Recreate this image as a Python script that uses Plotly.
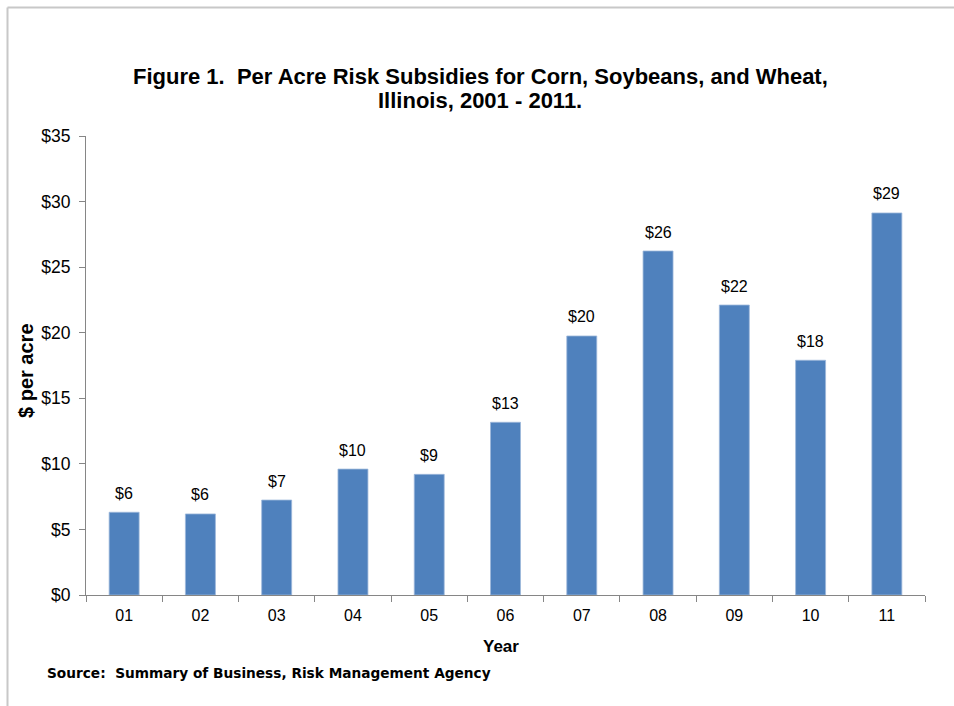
import plotly.graph_objects as go

years = ["01", "02", "03", "04", "05", "06", "07", "08", "09", "10", "11"]
subsidy = [6.31, 6.18, 7.24, 9.6, 9.2, 13.17, 19.75, 26.23, 22.11, 17.9, 29.13]
y_ticks = [0, 5, 10, 15, 20, 25, 30, 35]

W, H = 954, 706
L, R, T, B = 86, 29, 136, 111
pw = W - L - R
ph = H - T - B

FONT = "Arial, Liberation Sans, sans-serif"
BAR = "#4F81BD"
AXIS = "#868686"

fig = go.Figure()
fig.add_trace(go.Bar(
    x=years, y=subsidy,
    marker=dict(color=BAR, line=dict(color="#9DB7DA", width=0.8)),
    hoverinfo="x+y",
))

annotations = []
for i, v in enumerate(subsidy):
    annotations.append(dict(
        x=i, y=v, xref="x", yref="y", text=f"${v:.0f}", showarrow=False,
        yanchor="middle", yshift=19, font=dict(family=FONT, size=16, color="#000000"),
    ))

def px_x(p):
    return (p - L) / pw

def px_y(p):
    return 1 - (p - T) / ph

annotations += [
    dict(xref="paper", yref="paper", x=px_x(480), y=px_y(77), xanchor="center", yanchor="middle",
         text="<b>Figure 1.  Per Acre Risk Subsidies for Corn, Soybeans, and Wheat,</b>",
         showarrow=False, font=dict(family=FONT, size=22, color="#000000")),
    dict(xref="paper", yref="paper", x=px_x(480), y=px_y(101), xanchor="center", yanchor="middle",
         text="<b>Illinois, 2001 - 2011.</b>",
         showarrow=False, font=dict(family=FONT, size=22, color="#000000")),
    dict(xref="paper", yref="paper", x=px_x(26), y=px_y(371), xanchor="center", yanchor="middle",
         text="<b>$ per acre</b>", textangle=-90, showarrow=False,
         font=dict(family=FONT, size=20, color="#000000")),
    dict(xref="paper", yref="paper", x=px_x(501), y=px_y(646), xanchor="center", yanchor="middle",
         text="<b>Year</b>", showarrow=False, font=dict(family=FONT, size=17, color="#000000")),
    dict(xref="paper", yref="paper", x=px_x(45), y=px_y(673), xanchor="left", yanchor="middle",
         text="<b>Source:  Summary of Business, Risk Management Agency</b>", showarrow=False,
         font=dict(family="DejaVu Sans, Verdana, sans-serif", size=13.7, color="#000000")),
]

shapes = [
    dict(type="line", xref="paper", yref="paper", x0=px_x(7.5), x1=px_x(960), y0=px_y(7.5), y1=px_y(7.5),
         line=dict(color="#C8C8C8", width=2)),
    dict(type="line", xref="paper", yref="paper", x0=px_x(7.5), x1=px_x(7.5), y0=px_y(7.5), y1=px_y(720),
         line=dict(color="#C8C8C8", width=2)),
]

fig.update_layout(
    width=W, height=H,
    margin=dict(l=L, r=R, t=T, b=B, pad=0),
    paper_bgcolor="white", plot_bgcolor="white",
    showlegend=False,
    bargap=0.607,
    annotations=annotations,
    shapes=shapes,
    font=dict(family=FONT, size=16, color="#000000"),
    xaxis=dict(
        type="category", range=[-0.5, 10.5], showline=True, linecolor=AXIS, linewidth=1,
        ticks="outside", tickson="boundaries", ticklen=6, tickcolor=AXIS, tickwidth=1,
        tickfont=dict(family=FONT, size=16, color="#000000"), ticklabelstandoff=6,
        showgrid=False, zeroline=False,
    ),
    yaxis=dict(
        range=[0, 35], tickvals=y_ticks, ticktext=[f"${t}" for t in y_ticks],
        showline=True, linecolor=AXIS, linewidth=1,
        ticks="outside", ticklen=6, tickcolor=AXIS, tickwidth=1,
        tickfont=dict(family=FONT, size=17.5, color="#000000"), ticklabelstandoff=5,
        showgrid=False, zeroline=False,
    ),
)

fig.write_html("out.html")
